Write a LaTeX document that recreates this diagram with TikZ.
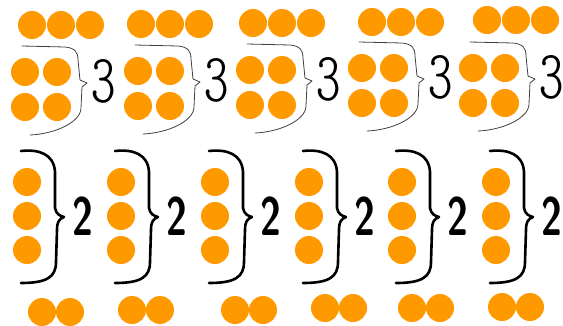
\documentclass[tikz,border=0pt]{standalone}
\definecolor{dotorange}{RGB}{255,153,0}
\begin{document}
\begin{tikzpicture}[x=1pt, y=-1pt, line cap=round, line join=round,
  dot/.style={fill=dotorange},
  thinbrace/.style={draw=black!75, line width=0.8pt},
  thickbrace/.style={draw=black, line width=2.6pt},
  three/.style={font=\fontsize{69}{69}\selectfont\ttfamily\fontseries{lc}\selectfont, inner sep=0pt},
  two/.style={font=\fontsize{54}{54}\selectfont\sffamily\bfseries, xscale=0.7, inner sep=0pt}]
  \def\r{14pt}
  \useasboundingbox (0,0) rectangle (563,325);

  % oben: 3 + 2x2, Klammer, 3
  \foreach \i/\bx/\by/\tx/\ty in {1/25/72/32/25, 2/138/71/141/24, 3/250/70/253/23,
                                  4/362/68/372/22, 5/473/68/487/20}{
    \foreach \k in {0,1,2}
      \fill[dot] ({\tx+29*\k},\ty) circle (\r);
    \foreach \c in {0,1}
      \foreach \rr in {0,1}
        \fill[dot] ({\bx+32*\c},{\by+35*\rr}) circle (\r);
    \begin{scope}[shift={(\bx,\by)}]
      \draw[thinbrace] (-3,-26) -- (40,-25) .. controls (50,-24) and (53,-20) .. (53,-12)
        -- (55,8) -- (62,11) -- (57,15) -- (56,36) .. controls (56,50) and (30,62) .. (5,63);
      \node[three] (three\i) at (79,9) {3};
    \end{scope}
  }

  % unten: Spalte mit 3, Klammer, 2 und zwei Punkte
  \foreach \i/\cx/\px/\py in {1/27/42/312, 2/121/132/310, 3/215/235/310,
                              4/309/325/308, 5/402/412/308, 6/496/502/307}{
    \foreach \k in {0,1,2}
      \fill[dot] (\cx,{182+34*\k}) circle (\r);
    \fill[dot] (\px,\py) circle (\r);
    \fill[dot] ({\px+28},\py) circle (\r);
    \begin{scope}[shift={(\cx,182)}]
      \draw[thickbrace] (-6,-31) .. controls (12,-33) and (27,-28) .. (28,-10) -- (28,26)
        .. controls (29,32) and (33,34) .. (37,35) .. controls (32,37) and (30,40) .. (30,48)
        -- (29,80) .. controls (29,95) and (20,101) .. (-6,101);
      \node[two] (two\i) at (56,34) {2};
    \end{scope}
  }
\end{tikzpicture}
\end{document}
